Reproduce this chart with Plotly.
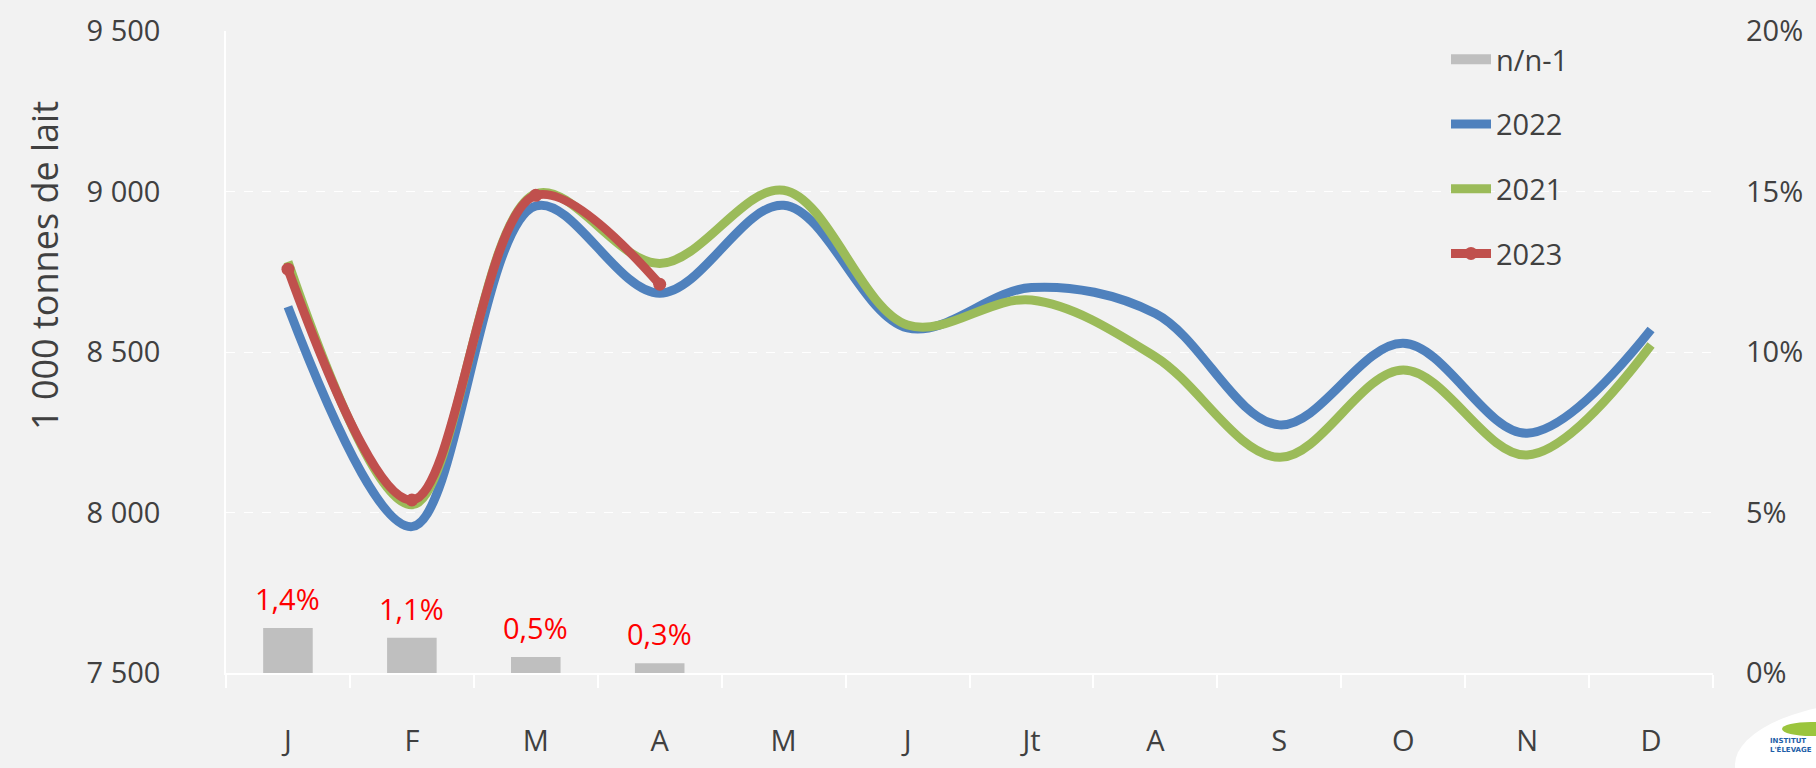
import plotly.graph_objects as go

# Monthly milk collection (1 000 t) and year-on-year change
month_labels = ["J", "F", "M", "A", "M", "J", "Jt", "A", "S", "O", "N", "D"]
collecte_2022 = [8641, 7956, 8955, 8683, 8957, 8575, 8701, 8620, 8273, 8527, 8247, 8570]
collecte_2021 = [8781, 8024, 8993, 8776, 9004, 8584, 8662, 8485, 8172, 8444, 8179, 8522]
collecte_2023 = [8758, 8039, 8988, 8711]
variation_pct = [1.4, 1.1, 0.5, 0.3]

left_ticks = [7500, 8000, 8500, 9000, 9500]
left_tick_text = ["7 500", "8 000", "8 500", "9 000", "9 500"]
right_ticks = [0, 5, 10, 15, 20]
right_tick_text = ["0%", "5%", "10%", "15%", "20%"]

FONT = "Open Sans"
TXT = "#404040"
BG = "#f2f2f2"
GREY = "#bfbfbf"

# plot-area geometry in page pixels (used to place paper-referenced items)
W, H = 1816, 768
L, R, T, B = 226, 103, 31, 95
pw, ph = W - L - R, H - T - B


def px(xp):
    return (xp - L) / pw


def py(yp):
    return (H - B - yp) / ph


xs = list(range(len(month_labels)))

fig = go.Figure()

# legend key for the bars: a wide grey swatch
fig.add_trace(go.Scatter(
    x=[None], y=[None], name="n/n-1", mode="lines",
    line=dict(color=GREY, width=19), legendgroup="g0",
))
fig.add_trace(go.Bar(
    x=xs[:len(variation_pct)], y=variation_pct, yaxis="y2", name="n/n-1",
    marker=dict(color=GREY, line=dict(width=0)), width=0.4,
    legendgroup="g0", showlegend=False,
))
fig.add_trace(go.Scatter(
    x=xs, y=collecte_2022, name="2022", mode="lines",
    line=dict(color="#4f81bd", width=9, shape="spline", smoothing=1.0),
    legendgroup="g1",
))
fig.add_trace(go.Scatter(
    x=xs, y=collecte_2021, name="2021", mode="lines",
    line=dict(color="#9bbb59", width=9, shape="spline", smoothing=1.0),
    legendgroup="g2",
))
fig.add_trace(go.Scatter(
    x=xs[:len(collecte_2023)], y=collecte_2023, name="2023", mode="lines+markers",
    line=dict(color="#c0504d", width=9, shape="spline", smoothing=1.0),
    marker=dict(color="#c0504d", size=13),
    legendgroup="g3",
))

annotations = []
for i, v in enumerate(variation_pct):
    annotations.append(dict(
        x=xs[i], y=v, xref="x", yref="y2", yanchor="bottom", yshift=8,
        text=f"{v:.1f}%".replace(".", ","), showarrow=False,
        font=dict(family=FONT, size=29, color="#ff0000"),
    ))

annotations.append(dict(
    x=px(44), y=py(266), xref="paper", yref="paper", textangle=-90,
    text="1 000 tonnes de lait", showarrow=False,
    font=dict(family=FONT, size=36, color=TXT),
    xanchor="center", yanchor="middle",
))

# corner logo
annotations.append(dict(
    x=px(1768), y=py(745), xref="paper", yref="paper", xanchor="left", yanchor="middle",
    text="<b>INSTITUT<br>L'ÉLEVAGE</b>", showarrow=False, align="left",
    font=dict(family="DejaVu Sans", size=7, color="#1f5fa8"),
))

shapes = [
    dict(type="circle", xref="paper", yref="paper",
         x0=px(1735), x1=px(2050), y0=py(830), y1=py(700),
         fillcolor="white", line=dict(width=0), layer="below"),
    dict(type="circle", xref="paper", yref="paper",
         x0=px(1782), x1=px(1840), y0=py(736), y1=py(722),
         fillcolor="#9bc53d", line=dict(width=0), layer="above"),
]

fig.update_layout(
    width=W, height=H,
    paper_bgcolor=BG, plot_bgcolor=BG,
    margin=dict(l=L, r=R, t=T, b=B, pad=0, autoexpand=False),
    font=dict(family=FONT, size=29, color=TXT),
    showlegend=True,
    legend=dict(
        x=px(1446), y=py(34), xanchor="left", yanchor="top",
        bgcolor="rgba(0,0,0,0)", font=dict(family=FONT, size=29, color=TXT),
        tracegroupgap=24, traceorder="grouped", itemwidth=40,
    ),
    xaxis=dict(
        range=[-0.5, 11.5], tickmode="array", tickvals=xs, ticktext=month_labels,
        ticks="", showgrid=False, zeroline=False, automargin=False,
        showline=True, linecolor="white", linewidth=1.5,
        tickfont=dict(family=FONT, size=29, color=TXT),
        ticklabelstandoff=41,
        minor=dict(tickmode="array", tickvals=[i - 0.5 for i in range(13)],
                   ticks="outside", ticklen=13, tickcolor="white", tickwidth=1.5,
                   showgrid=False),
    ),
    yaxis=dict(
        range=[7500, 9500], tickmode="array", tickvals=left_ticks, ticktext=left_tick_text,
        showgrid=True, gridcolor="white", gridwidth=1, griddash="dash",
        zeroline=False, showline=True, linecolor="white", linewidth=1.5,
        ticks="", tickfont=dict(family=FONT, size=29, color=TXT),
        ticklabelstandoff=58, automargin=False,
    ),
    yaxis2=dict(
        range=[0, 20], overlaying="y", side="right",
        tickmode="array", tickvals=right_ticks, ticktext=right_tick_text,
        showgrid=False, zeroline=False, showline=False, ticks="",
        tickfont=dict(family=FONT, size=29, color=TXT),
        ticklabelstandoff=32, automargin=False,
    ),
    annotations=annotations,
    shapes=shapes,
)

fig.write_html("out.html")
